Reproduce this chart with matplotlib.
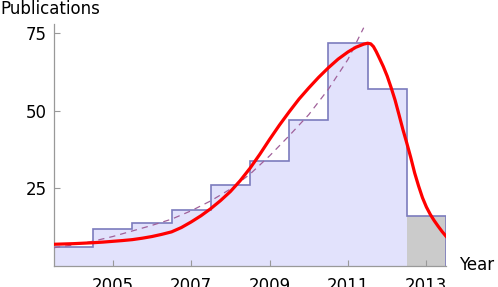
import numpy as np
import matplotlib
matplotlib.use('Agg')
import matplotlib.pyplot as plt

# publications per year (histogram bars)
years = [2004, 2005, 2006, 2007, 2008, 2009, 2010, 2011, 2012, 2013]
counts = [6, 12, 14, 18, 26, 34, 47, 72, 57, 16]

# fitted model curve (red)
fit_x = [2003.5, 2003.75, 2004.0, 2004.25, 2004.5, 2004.75, 2005.0, 2005.25,
         2005.5, 2005.75, 2006.0, 2006.25, 2006.5, 2006.75, 2007.0, 2007.25,
         2007.5, 2007.75, 2008.0, 2008.25, 2008.5, 2008.75, 2009.0, 2009.25,
         2009.5, 2009.75, 2010.0, 2010.25, 2010.5, 2010.75, 2011.0, 2011.2,
         2011.4, 2011.5, 2011.58, 2011.65, 2011.72, 2011.8, 2011.9, 2012.0,
         2012.1, 2012.2, 2012.3, 2012.4, 2012.5, 2012.6, 2012.7, 2012.8,
         2012.9, 2013.0, 2013.1, 2013.2, 2013.3, 2013.4, 2013.5]
fit_y = [7.0, 7.1, 7.2, 7.35, 7.5, 7.7, 7.95, 8.2,
         8.5, 8.95, 9.5, 10.2, 11.0, 12.4, 14.2, 16.2,
         18.5, 21.1, 24.0, 27.5, 31.5, 36.0, 40.8, 45.4,
         49.7, 53.8, 57.4, 60.8, 63.9, 66.7, 69.0, 70.5,
         71.5, 71.8, 71.6, 70.7, 69.1, 67.0, 64.3, 61.2,
         57.5, 53.5, 48.8, 44.0, 39.6, 35.0, 30.0, 25.8,
         22.0, 19.0, 16.6, 14.6, 12.8, 11.1, 9.6]

# exponential trend (dashed)
trend_x = [2003.5, 2004.0, 2004.5, 2005.0, 2005.5, 2006.0, 2006.5, 2007.0,
           2007.5, 2008.0, 2008.5, 2009.0, 2009.5, 2010.0, 2010.5, 2011.0, 2011.4]
trend_y = [5.9, 6.8, 8.0, 9.5, 11.3, 13.1, 15.1, 17.8,
           21.0, 24.8, 29.6, 35.5, 42.0, 48.8, 57.0, 66.6, 76.8]

xticks = [2005, 2007, 2009, 2011, 2013]
yticks = [25, 50, 75]

plt.rcParams['font.family'] = 'DejaVu Sans'

fig = plt.figure(figsize=(4.98, 2.87), dpi=100)
ax = fig.add_axes([0.1084, 0.0732, 0.7872, 0.8432])

edges = np.append(np.array(years) - 0.5, years[-1] + 0.5)
vals = np.array(counts, dtype=float)
ax.stairs(vals, edges, fill=True, color='#e2e2fc', zorder=1)
# last (incomplete) year shaded gray
ax.stairs(vals[-1:], edges[-2:], fill=True, color='#cbcbcb', zorder=1.5)
ax.stairs(vals, edges, fill=False, color='#7b7bbd', linewidth=1.2, zorder=2)

ax.plot(trend_x, trend_y, color='#a0609a', linewidth=0.9, dashes=(5, 4), zorder=3)
ax.plot(fit_x, fit_y, color='#ff0000', linewidth=2.3, zorder=4,
        solid_joinstyle='round')

ax.set_xlim(2003.5, 2013.5)
ax.set_ylim(0, 78)
ax.set_xticks(xticks)
ax.set_yticks(yticks)
for s in ['top', 'right']:
    ax.spines[s].set_visible(False)
for s in ['left', 'bottom']:
    ax.spines[s].set_color('#999999')
    ax.spines[s].set_linewidth(0.9)
ax.tick_params(axis='both', direction='in', length=4, color='#999999', labelsize=12)
ax.tick_params(axis='x', pad=8)
ax.tick_params(axis='y', pad=5)

fig.text(0.0, 1.0, 'Publications', ha='left', va='top', fontsize=12)
fig.text(0.922, 0.075, 'Year', ha='left', va='center', fontsize=12)

fig.savefig('out.png', dpi=100)
